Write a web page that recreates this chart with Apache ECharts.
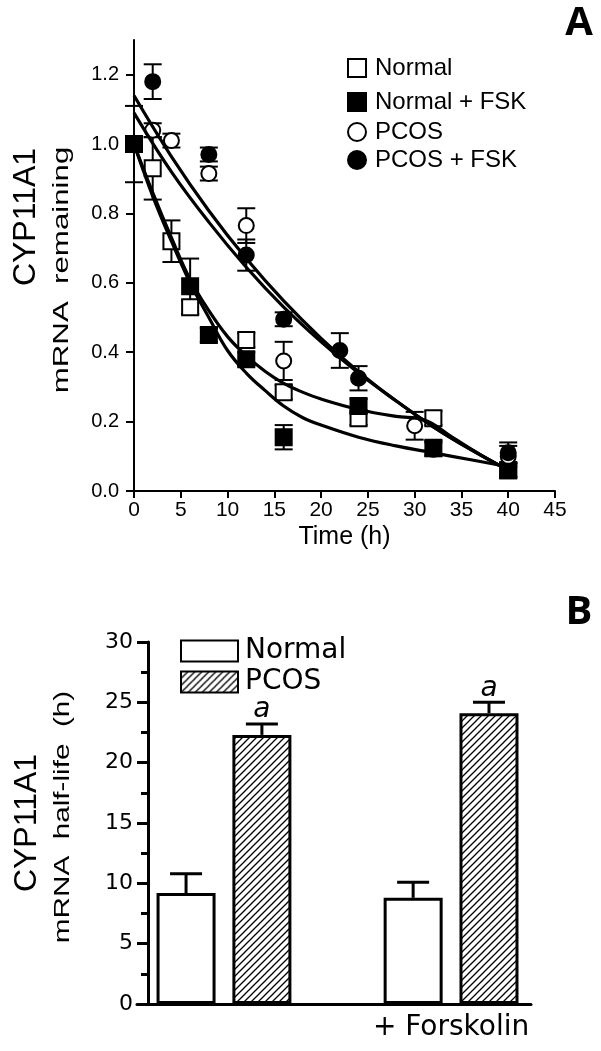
<!DOCTYPE html>
<html><head><meta charset="utf-8">
<script src="https://cdn.jsdelivr.net/npm/echarts@6/dist/echarts.min.js"></script>
<style>html,body{margin:0;padding:0;background:#fff}#c{width:601px;height:1051px}</style>
</head><body><div id="c"></div>
<script>
// ---------- Panel A data (time in h, mRNA remaining, SEM) ----------
const timeTicks = [0, 5, 10, 15, 20, 25, 30, 35, 40, 45];
const remainTicks = [0, 0.2, 0.4, 0.6, 0.8, 1.0, 1.2];

const normalT   = [0, 2, 4, 6, 12, 16, 24, 32, 40];
const normalY   = [1.00, 0.93, 0.72, 0.53, 0.435, 0.285, 0.21, 0.21, 0.06];
const normalErr = [0.11, 0.09, 0.06, 0.02, 0.02, 0.02, 0.02, 0.02, 0.02];

const normalFskT   = [0, 6, 8, 12, 16, 24, 32, 40];
const normalFskY   = [1.00, 0.59, 0.45, 0.38, 0.155, 0.245, 0.125, 0.06];
const normalFskErr = [0, 0.08, 0.02, 0.02, 0.035, 0.02, 0.02, 0.02];

const pcosT   = [2, 4, 8, 12, 16, 30, 40];
const pcosY   = [1.04, 1.01, 0.915, 0.765, 0.375, 0.188, 0.10];
const pcosErr = [0.02, 0.02, 0.02, 0.05, 0.055, 0.04, 0.03];

const pcosFskT   = [2, 8, 12, 16, 22, 24, 32, 40];
const pcosFskY   = [1.18, 0.97, 0.68, 0.495, 0.405, 0.325, 0.12, 0.11];
const pcosFskErr = [0.05, 0.02, 0.045, 0.02, 0.05, 0.035, 0.02, 0.03];

// fitted decay curves
const normalFitT = [0, 2, 4, 6, 8, 10, 12, 14, 16, 18, 20, 24, 28, 31, 34, 37, 40];
const normalFitY = [1.00, 0.86, 0.73, 0.61, 0.52, 0.445, 0.39, 0.345, 0.31, 0.285, 0.265, 0.235, 0.215, 0.205, 0.155, 0.105, 0.06];
const normalFskFitT = [0, 2, 4, 6, 8, 10, 12, 14, 16, 18, 20, 24, 28, 32, 36, 40];
const normalFskFitY = [1.00, 0.85, 0.72, 0.60, 0.50, 0.405, 0.34, 0.29, 0.245, 0.212, 0.19, 0.155, 0.13, 0.11, 0.09, 0.07];
const pcosFitT = [0, 4, 8, 12, 16, 20, 24, 28, 32, 36, 40];
const pcosFitY = [1.09, 0.92, 0.775, 0.645, 0.53, 0.43, 0.34, 0.26, 0.185, 0.12, 0.06];
const pcosFskFitT = [0, 4, 8, 12, 16, 20, 24, 28, 32, 36, 40];
const pcosFskFitY = [1.14, 0.964, 0.808, 0.670, 0.548, 0.440, 0.344, 0.260, 0.185, 0.119, 0.060];

const legendA = ['Normal', 'Normal + FSK', 'PCOS', 'PCOS + FSK'];

// ---------- Panel B data (half-life, h) ----------
const bGroups = ['', '+ Forskolin'];
const bNormal = [9.2, 8.8];
const bNormalErr = [1.6, 1.3];
const bPcos = [22.3, 24.1];
const bPcosErr = [0.9, 0.9];
const bNormalSig = ['', ''];
const bPcosSig = ['a', 'a'];
const halfLifeTicks = [0, 5, 10, 15, 20, 25, 30];
const legendB = ['Normal', 'PCOS'];

// ---------- helpers ----------
const zip = (xs, ys) => xs.map((x, i) => [x, ys[i]]);
const zip3 = (xs, ys, es) => xs.map((x, i) => [x, ys[i], es[i]]);

function hatch() {
  const s = 7, c = document.createElement('canvas');
  c.width = s; c.height = s;
  const g = c.getContext('2d');
  g.fillStyle = '#fff'; g.fillRect(0, 0, s, s);
  g.strokeStyle = '#000'; g.lineWidth = 1.3;
  g.beginPath();
  g.moveTo(-1, s + 1); g.lineTo(s + 1, -1);
  g.moveTo(-1, 1); g.lineTo(1, -1);
  g.moveTo(s - 1, s + 1); g.lineTo(s + 1, s - 1);
  g.stroke();
  return c;
}
const hatchFill = { image: hatch(), repeat: 'repeat' };
const bSigAll = [bNormalSig, bPcosSig];

function errA(params, api) {
  const x = api.value(0), y = api.value(1), e = api.value(2);
  if (!e) return null;
  const t = api.coord([x, y + e]), b = api.coord([x, y - e]);
  const st = { stroke: '#000', lineWidth: 2 };
  return { type: 'group', children: [
    { type: 'line', shape: { x1: t[0], y1: t[1], x2: b[0], y2: b[1] }, style: st },
    { type: 'line', shape: { x1: t[0] - 9, y1: t[1], x2: t[0] + 9, y2: t[1] }, style: st },
    { type: 'line', shape: { x1: b[0] - 9, y1: b[1], x2: b[0] + 9, y2: b[1] }, style: st }
  ]};
}
function makeErrB(which) {
  return function (params, api) {
    const x = api.value(0), y = api.value(1), e = api.value(2);
    const sig = bSigAll[which][params.dataIndex];
    const b = api.coord([x, y]), t = api.coord([x, y + e]);
    const st = { stroke: '#000', lineWidth: 3 };
    const ch = [
      { type: 'line', shape: { x1: t[0], y1: t[1], x2: b[0], y2: b[1] }, style: st },
      { type: 'line', shape: { x1: t[0] - 16, y1: t[1], x2: t[0] + 16, y2: t[1] }, style: st }
    ];
    if (sig) ch.push({ type: 'text', x: t[0], y: t[1], style: { text: sig, fill: '#000',
      font: 'italic 28px "DejaVu Sans"', textAlign: 'center', textVerticalAlign: 'bottom' } });
    return { type: 'group', children: ch };
  };
}

const labA = { color: '#000', fontFamily: 'Liberation Sans', fontSize: 20 };
const labB = { color: '#000', fontFamily: 'DejaVu Sans', fontSize: 21 };
const curveStyle = { color: '#000', width: 3.2 };

function sq(name, t, y, fill) {
  return { name, type: 'scatter', xAxisIndex: 0, yAxisIndex: 0, data: zip(t, y), symbol: 'rect',
    symbolSize: 16, z: 4, itemStyle: { color: fill, borderColor: '#000', borderWidth: 2, opacity: 1 } };
}
function ci(name, t, y, fill) {
  return { name, type: 'scatter', xAxisIndex: 0, yAxisIndex: 0, data: zip(t, y), symbol: 'circle',
    symbolSize: 15, z: 4, itemStyle: { color: fill, borderColor: '#000', borderWidth: 2, opacity: 1 } };
}
function curve(t, y) {
  return { type: 'line', xAxisIndex: 0, yAxisIndex: 0, data: zip(t, y), smooth: 0.4, symbol: 'none',
    lineStyle: curveStyle, z: 5, silent: true };
}
function errSeries(t, y, e) {
  return { type: 'custom', xAxisIndex: 0, yAxisIndex: 0, data: zip3(t, y, e), renderItem: errA, z: 3, silent: true };
}

const legendRowsA = [63, 97, 127, 155];
const legendRowsB = [645, 676];

const chart = echarts.init(document.getElementById('c'), null, { renderer: 'canvas' });
chart.setOption({
  animation: false,
  backgroundColor: '#fff',
  grid: [
    { left: 134, top: 40, width: 421, height: 451 },
    { left: 137, top: 642, width: 394, height: 362 }
  ],
  legend: [
    ...legendA.map((n, i) => ({
      data: [n], left: 342, top: legendRowsA[i] - 12, itemWidth: 18, itemHeight: 18,
      selectedMode: false, textStyle: { color: '#000', fontFamily: 'Liberation Sans', fontSize: 24, padding: [0, 0, 0, 4] }
    })),
    ...legendB.map((n, i) => ({
      data: [{ name: 'B:' + n, icon: 'rect' }], left: 175, top: legendRowsB[i] - 13, itemWidth: 57, itemHeight: 21,
      selectedMode: false, formatter: s => s.slice(2),
      textStyle: { color: '#000', fontFamily: 'DejaVu Sans', fontSize: 28, padding: [0, 0, 0, 2] }
    }))
  ],
  xAxis: [
    { gridIndex: 0, type: 'value', min: 0, max: 45, interval: 5,
      name: 'Time (h)', nameLocation: 'middle', nameGap: 34,
      nameTextStyle: { color: '#000', fontFamily: 'Liberation Sans', fontSize: 25 },
      axisLine: { lineStyle: { color: '#000', width: 2 } },
      axisTick: { length: 7, lineStyle: { color: '#000', width: 2 } },
      axisLabel: { ...labA, fontSize: 21, margin: 9 }, splitLine: { show: false } },
    { gridIndex: 1, type: 'value', min: -0.383, max: 1.352,
      axisLine: { onZero: false, lineStyle: { color: '#000', width: 3 } },
      axisTick: { show: false },
      axisLabel: { customValues: [0, 1], formatter: v => bGroups[Math.round(v)], color: '#000',
        fontFamily: 'DejaVu Sans', fontSize: 28, margin: 10 },
      splitLine: { show: false } }
  ],
  yAxis: [
    { gridIndex: 0, type: 'value', min: 0, max: 1.3,
      axisLine: { show: true, lineStyle: { color: '#000', width: 2 } },
      axisTick: { show: true, length: 8, customValues: remainTicks, lineStyle: { color: '#000', width: 2 } },
      axisLabel: { ...labA, customValues: remainTicks, formatter: v => v.toFixed(1), margin: 15 },
      splitLine: { show: false } },
    { gridIndex: 1, type: 'value', min: 0, max: 30, interval: 5, offset: -11,
      axisLine: { show: true, onZero: false, lineStyle: { color: '#000', width: 3 } },
      axisTick: { show: true, length: 11, lineStyle: { color: '#000', width: 3 } },
      minorTick: { show: true, splitNumber: 2, length: 7, lineStyle: { color: '#000', width: 3 } },
      axisLabel: { ...labB, fontSize: 22, margin: 15 },
      splitLine: { show: false } }
  ],
  graphic: [
    { type: 'text', x: 579, y: 24, style: { text: 'A', font: 'bold 40px "Open Sans"', fill: '#000', textAlign: 'center', textVerticalAlign: 'middle' } },
    { type: 'text', x: 579, y: 613, style: { text: 'B', font: 'bold 40px "Open Sans"', fill: '#000', textAlign: 'center', textVerticalAlign: 'middle' } },
    { type: 'text', x: 26, y: 217, rotation: Math.PI / 2, style: { text: 'CYP11A1', font: '32px "Liberation Sans"', fill: '#000', textAlign: 'center', textVerticalAlign: 'middle' } },
    { type: 'text', x: 62, y: 270, rotation: Math.PI / 2, scaleX: 1.42, style: { text: 'mRNA  remaining', font: '22px "Liberation Sans"', fill: '#000', textAlign: 'center', textVerticalAlign: 'middle' } },
    { type: 'text', x: 27, y: 823, rotation: Math.PI / 2, style: { text: 'CYP11A1', font: '32px "Liberation Sans"', fill: '#000', textAlign: 'center', textVerticalAlign: 'middle' } },
    { type: 'text', x: 63, y: 817, rotation: Math.PI / 2, scaleX: 1.35, style: { text: 'mRNA  half-life  (h)', font: '22px "Liberation Sans"', fill: '#000', textAlign: 'center', textVerticalAlign: 'middle' } }
  ],
  series: [
    errSeries(normalT, normalY, normalErr),
    errSeries(normalFskT, normalFskY, normalFskErr),
    errSeries(pcosT, pcosY, pcosErr),
    errSeries(pcosFskT, pcosFskY, pcosFskErr),
    sq('Normal', normalT, normalY, '#fff'),
    sq('Normal + FSK', normalFskT, normalFskY, '#000'),
    ci('PCOS', pcosT, pcosY, '#fff'),
    ci('PCOS + FSK', pcosFskT, pcosFskY, '#000'),
    curve(normalFitT, normalFitY),
    curve(normalFskFitT, normalFskFitY),
    curve(pcosFitT, pcosFitY),
    curve(pcosFskFitT, pcosFskFitY),
    { type: 'custom', xAxisIndex: 1, yAxisIndex: 1, z: 1, silent: true,
      data: bGroups.map((g, i) => [i - 0.167, bNormal[i], bNormalErr[i]]), renderItem: makeErrB(0) },
    { type: 'custom', xAxisIndex: 1, yAxisIndex: 1, z: 1, silent: true,
      data: bGroups.map((g, i) => [i + 0.167, bPcos[i], bPcosErr[i]]), renderItem: makeErrB(1) },
    { name: 'B:Normal', type: 'bar', xAxisIndex: 1, yAxisIndex: 1, barWidth: 59, barGap: '-100%', z: 2,
      data: bGroups.map((g, i) => [i - 0.167, bNormal[i]]),
      itemStyle: { color: '#fff', borderColor: '#000', borderWidth: 3 } },
    { name: 'B:PCOS', type: 'bar', xAxisIndex: 1, yAxisIndex: 1, barWidth: 59, barGap: '-100%', z: 2,
      data: bGroups.map((g, i) => [i + 0.167, bPcos[i]]),
      itemStyle: { color: hatchFill, borderColor: '#000', borderWidth: 3 } }
  ]
});
</script></body></html>
